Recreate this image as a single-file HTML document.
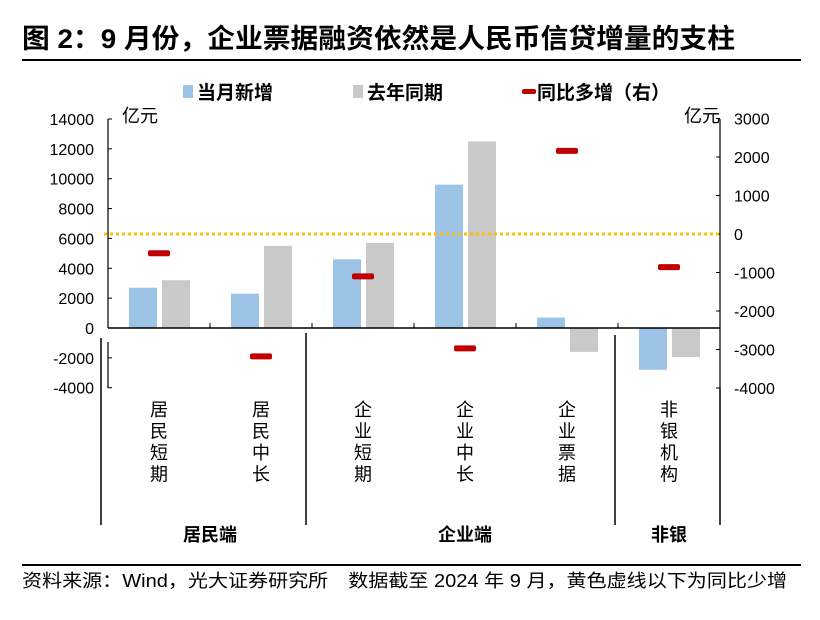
<!DOCTYPE html>
<html><head><meta charset="utf-8"><style>
body{margin:0;background:#fff;width:820px;height:615px;overflow:hidden;font-family:"Liberation Sans","Noto Sans CJK SC",sans-serif;}
svg text{font-family:"Liberation Sans","Noto Sans CJK SC",sans-serif;}
</style></head><body>
<svg id="chart" width="820" height="615" xmlns="http://www.w3.org/2000/svg">
<text x="22" y="48" font-size="27" font-weight="bold" fill="#000" textLength="713" lengthAdjust="spacingAndGlyphs">图 2：9 月份，企业票据融资依然是人民币信贷增量的支柱</text>
<line x1="22" y1="60" x2="801" y2="60" stroke="#000" stroke-width="2"/>
<g font-size="19" font-weight="bold">
<rect x="183" y="85" width="10" height="13" fill="#9dc3e6"/>
<text x="197" y="99">当月新增</text>
<rect x="353" y="85" width="10" height="13" fill="#c9c9c9"/>
<text x="367" y="99">去年同期</text>
<rect x="522" y="89" width="14" height="5" rx="2" fill="#c00000"/>
<text x="537" y="99">同比多增（右）</text>
</g>
<text x="122" y="122" font-size="18">亿元</text>
<text x="684" y="122" font-size="18">亿元</text>
<g id="plot"></g>
<g>
<line x1="22" y1="565" x2="801" y2="565" stroke="#000" stroke-width="2"/>
<text x="22" y="587" font-size="18" textLength="765" lengthAdjust="spacingAndGlyphs">资料来源：Wind，光大证券研究所　数据截至 2024 年 9 月，黄色虚线以下为同比少增</text>
</g>
</svg>
<script>
const categories=["居民短期","居民中长","企业短期","企业中长","企业票据","非银机构"];
const currentValues=[2700,2300,4600,9600,700,-2800];
const lastYearValues=[3200,5500,5700,12500,-1600,-1950];
const yoyValues=[-500,-3180,-1100,-2970,2160,-860];
const leftTicks=[14000,12000,10000,8000,6000,4000,2000,0,-2000,-4000];
const rightTicks=[3000,2000,1000,0,-1000,-2000,-3000,-4000];
const groups=[{name:"居民端",from:0,to:2},{name:"企业端",from:2,to:5},{name:"非银",from:5,to:6}];

const NS="http://www.w3.org/2000/svg";
const g=document.getElementById('plot');
const X0=108,X1=720;
const yL=v=>328-v*(328-119)/14000;
const yR=v=>234-v*(388-234)/4000;
const bw=(X1-X0)/categories.length;
const cx=i=>X0+bw*(i+0.5);
function mk(tag,attrs){const e=document.createElementNS(NS,tag);for(const k in attrs)e.setAttribute(k,attrs[k]);g.appendChild(e);return e;}

let e=mk('line',{x1:X0,y1:119,x2:X0,y2:328,stroke:'#000','stroke-width':1.2});


e=mk('line',{x1:X1,y1:119,x2:X1,y2:388,stroke:'#000','stroke-width':1.2});


e=mk('line',{x1:X0,y1:342,x2:X0,y2:388,stroke:'#000','stroke-width':1.2});



leftTicks.forEach(t=>{
  const y=yL(t);
  let l=mk('line',{x1:X0,y1:y,x2:X0+4,y2:y,stroke:'#000'});
  
  
  let tx=mk('text',{x:94,y:y+6,'text-anchor':'end','font-size':16});
  tx.textContent=t;
  
  
});
rightTicks.forEach(t=>{
  const y=yR(t);
  let l=mk('line',{x1:X1-4,y1:y,x2:X1,y2:y,stroke:'#000'});
  
  
  let tx=mk('text',{x:734,y:y+6,'font-size':16});
  tx.textContent=t;
  
  
});

categories.forEach((c,i)=>{
  const v=currentValues[i],w=lastYearValues[i];
  let r=mk('rect',{x:cx(i)-30,y:Math.min(yL(v),yL(0)),width:28,height:Math.abs(yL(v)-yL(0)),fill:'#9dc3e6'});
  
  
  r=mk('rect',{x:cx(i)+3,y:Math.min(yL(w),yL(0)),width:28,height:Math.abs(yL(w)-yL(0)),fill:'#c9c9c9'});
  
  
});
e=mk('line',{x1:X0,y1:yL(0),x2:X1,y2:yL(0),stroke:'#000','stroke-width':1.5});


for(let i=1;i<categories.length;i++){
  let l=mk('line',{x1:X0+bw*i,y1:yL(0),x2:X0+bw*i,y2:yL(0)-5,stroke:'#000'});
  
  
}
e=mk('line',{x1:104,y1:yR(0),x2:X1,y2:yR(0),stroke:'#ffc000','stroke-width':3,'stroke-dasharray':'3 3'});


categories.forEach((c,i)=>{
  let r=mk('rect',{x:cx(i)-11,y:yR(yoyValues[i])-3,width:22,height:6,rx:2,fill:'#c00000'});
  
  
});
categories.forEach((c,i)=>{
  [...c].forEach((ch,k)=>{
    let t=mk('text',{x:cx(i),y:416+k*21.5,'text-anchor':'middle','font-size':18});
    t.textContent=ch;
    
    
  });
});
const sepX=[101,306,615,720];
const sepTop=[338,333,335,388];
sepX.forEach((x,k)=>{
  let l=mk('line',{x1:x,y1:sepTop[k],x2:x,y2:525,stroke:'#000','stroke-width':1.5});
  
  
});
groups.forEach(gr=>{
  const x=(cx(gr.from)+cx(gr.to-1))/2;
  let t=mk('text',{x:x,y:541,'text-anchor':'middle','font-size':18,'font-weight':'bold'});
  t.textContent=gr.name;
  
  
});
</script>
</body></html>
